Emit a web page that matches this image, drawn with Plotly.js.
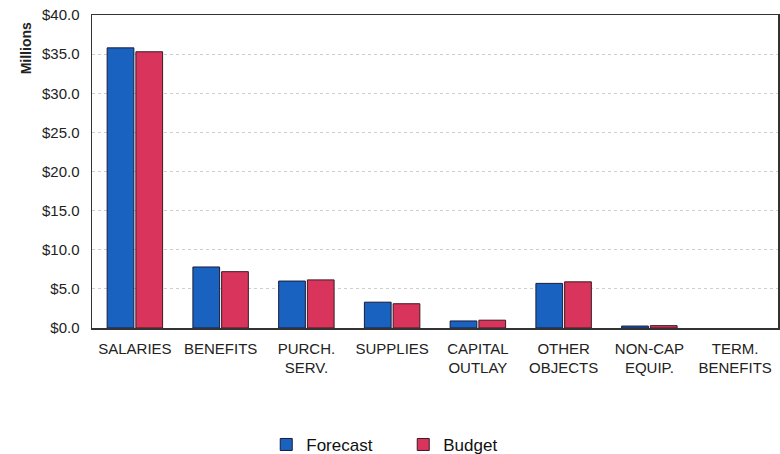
<!DOCTYPE html>
<html><head><meta charset="utf-8">
<script src="https://cdn.plot.ly/plotly-3.0.1.min.js"></script>
<style>html,body{margin:0;padding:0;background:#fff}</style>
</head><body><div id="chart" style="width:780px;height:454px"></div>
<script>
const categories = ["SALARIES","BENEFITS","PURCH.<br>SERV.","SUPPLIES","CAPITAL<br>OUTLAY","OTHER<br>OBJECTS","NON-CAP<br>EQUIP.","TERM.<br>BENEFITS"];
const forecast = [35.8, 7.8, 6.0, 3.3, 0.9, 5.7, 0.25, 0];
const budget = [35.3, 7.2, 6.15, 3.1, 1.0, 5.9, 0.3, 0];
const yTickVals = [0,5,10,15,20,25,30,35,40];
const yTickText = ["$0.0","$5.0","$10.0","$15.0","$20.0","$25.0","$30.0","$35.0","$40.0"];

const lw = v => v.map(d => d > 0 ? 1 : 0);
const data = [
  {type:"bar", name:"Forecast", x:categories, y:forecast,
   marker:{color:"#1a62c0", line:{color:"#1b1b3a", width:lw(forecast)}}},
  {type:"bar", name:"Budget", x:categories, y:budget,
   marker:{color:"#d8345c", line:{color:"#3a1b22", width:lw(budget)}}}
];
const layout = {
  width:780, height:454,
  margin:{l:92, r:2, t:15, b:126},
  paper_bgcolor:"#fff", plot_bgcolor:"#fff",
  font:{family:"Liberation Sans, Arial, sans-serif", size:15, color:"#222"},
  barmode:"group", bargap:0.33, bargroupgap:0.07,
  showlegend:true,
  legend:{orientation:"h", x:0.254, xanchor:"left", yref:"container", y:0.02, yanchor:"middle",
          font:{size:17, color:"#111"}, entrywidth:92, entrywidthmode:"pixels", tracegroupgap:0},
  xaxis:{showline:true, linecolor:"#333", linewidth:1.5, mirror:true, ticks:"",
         tickfont:{size:15, color:"#222"}, ticklabelstandoff:6, fixedrange:true},
  yaxis:{range:[0,40], tickvals:yTickVals, ticktext:yTickText, showgrid:true,
         gridcolor:"#cfcfcf", gridwidth:1, griddash:"dot",
         showline:true, linecolor:"#333", linewidth:1.5, mirror:true,
         ticks:"", tickfont:{size:15, color:"#222"}, ticklabelstandoff:8, zeroline:false},
  annotations:[{text:"<b>Millions</b>", textangle:-90, xref:"paper", yref:"paper",
                x:-0.097, y:0.895, xanchor:"center", yanchor:"middle", showarrow:false,
                font:{size:14, color:"#222"}}]
};
Plotly.newPlot("chart", data, layout, {displayModeBar:false, staticPlot:true});
</script></body></html>
